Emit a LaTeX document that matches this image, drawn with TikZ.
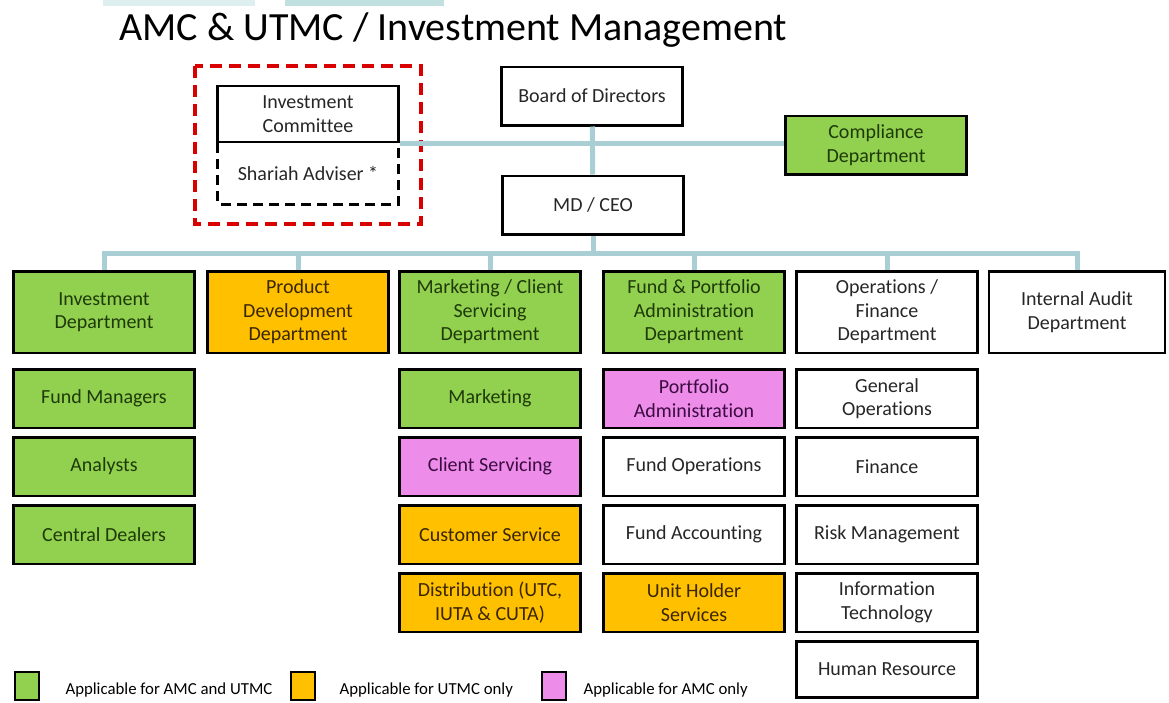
\documentclass[tikz,border=0pt]{standalone}
\usepackage{fontspec}
\setmainfont{Carlito}[Ligatures=NoCommon]
\usetikzlibrary{positioning}

\definecolor{amcgreen}{HTML}{92D050}
\definecolor{utmcgold}{HTML}{FFC000}
\definecolor{amcpink}{HTML}{EE8CEA}
\definecolor{greentext}{HTML}{1E3A08}
\definecolor{goldtext}{HTML}{3A2600}
\definecolor{pinktext}{HTML}{3A0C40}
\definecolor{linkteal}{HTML}{A9CFD4}
\definecolor{bandlight}{HTML}{DDEFEF}
\definecolor{banddark}{HTML}{C1E1E0}

\begin{document}
\begin{tikzpicture}[
	x=1pt, y=-1pt,
	node distance=7pt,
	every node/.style={font=\fontsize{20}{23.5}\selectfont},
	unit/.style={
		draw,
		line width=2.5pt,
		minimum width=181pt,
		minimum height=58.5pt,
		align=center,
		inner sep=2pt,
		text=black!85
	},
	dept/.style={unit, minimum height=81.5pt},
	both/.style={fill=amcgreen, text=greentext},
	utmc/.style={fill=utmcgold, text=goldtext},
	amc/.style={fill=amcpink, text=pinktext},
	link/.style={draw=linkteal, line width=5pt},
	legendkey/.style={draw, line width=2.5pt, minimum width=24pt, minimum height=28pt, inner sep=0pt},
	legendtext/.style={font=\fontsize{16.8}{19}\selectfont, anchor=west}
]
\useasboundingbox (0,0) rectangle (1169,702);
\fill[bandlight] (103,0) rectangle (255,6);
\fill[banddark] (285,0) rectangle (444,6);

\node[anchor=base west, font=\fontsize{40}{48}\selectfont] (title) at (116,40) {AMC \& UTMC / Investment Management};

% board level
\node[unit] (bod) at (592,96) {Board of Directors};
\node[unit, minimum height=56pt] (ic) at (308,114) {Investment\\Committee};
\node[unit, draw=none, minimum width=178pt, below=0pt of ic] (shariah) {Shariah Adviser *};
\draw[line width=3pt, dash pattern=on 10pt off 6pt] (shariah.north west) -- (shariah.south west) -- (shariah.south east) -- (shariah.north east);
\draw[red!85!black, line width=3.5pt, dash pattern=on 12pt off 7pt] (195,66) rectangle (421,224);
\node[unit, both] (comp) at (876,145) {Compliance\\Department};
\node[unit] (ceo) at (593,205) {MD / CEO};

\draw[link] (ic.south east) -- (ic.south east -| comp.west);
\draw[link] (bod) -- (ceo);

% departments
\node[dept, both] (inv) at (104,312) {Investment\\Department};
\node[dept, utmc] (prod) at (298,312) {Product\\Development\\Department};
\node[dept, both] (mkt) at (490,312) {Marketing / Client\\Servicing\\Department};
\node[dept, both] (fund) at (694,312) {Fund \& Portfolio\\Administration\\Department};
\node[dept] (ops) at (887,312) {Operations /\\Finance\\Department};
\node[dept, minimum width=176pt] (audit) at (1077,312) {Internal Audit\\Department};

\coordinate (bus) at (593,253);
\draw[link] (ceo) -- (bus);
\foreach \d in {inv,prod,mkt,fund,ops,audit}
	\draw[link] (bus) -| (\d.north);

% investment
\node[unit, both, below=14pt of inv] (fm) {Fund Managers};
\node[unit, both, below=of fm] (analysts) {Analysts};
\node[unit, both, below=of analysts] (dealers) {Central Dealers};

% marketing / client servicing
\node[unit, both, below=14pt of mkt] (marketing) {Marketing};
\node[unit, amc, below=of marketing] (client) {Client Servicing};
\node[unit, utmc, below=of client] (custsvc) {Customer Service};
\node[unit, utmc, below=of custsvc] (distrib) {Distribution (UTC,\\IUTA \& CUTA)};

% fund & portfolio administration
\node[unit, amc, below=14pt of fund] (portadmin) {Portfolio\\Administration};
\node[unit, below=of portadmin] (fundops) {Fund Operations};
\node[unit, below=of fundops] (fundacc) {Fund Accounting};
\node[unit, utmc, below=of fundacc] (unitholder) {Unit Holder\\Services};

% operations / finance
\node[unit, below=14pt of ops] (genops) {General\\Operations};
\node[unit, below=of genops] (finance) {Finance};
\node[unit, below=of finance] (risk) {Risk Management};
\node[unit, below=of risk] (it) {Information\\Technology};
\node[unit, minimum height=56pt, below=of it] (hr) {Human Resource};

% legend
\node[legendkey, both] (keyboth) at (27,686) {};
\node[legendtext] (txtboth) at (62,690) {Applicable for AMC and UTMC};
\node[legendkey, utmc] (keyutmc) at (303,686) {};
\node[legendtext] (txtutmc) at (336,690) {Applicable for UTMC only};
\node[legendkey, amc] (keyamc) at (554,686) {};
\node[legendtext] (txtamc) at (580,690) {Applicable for AMC only};
\end{tikzpicture}
\end{document}
